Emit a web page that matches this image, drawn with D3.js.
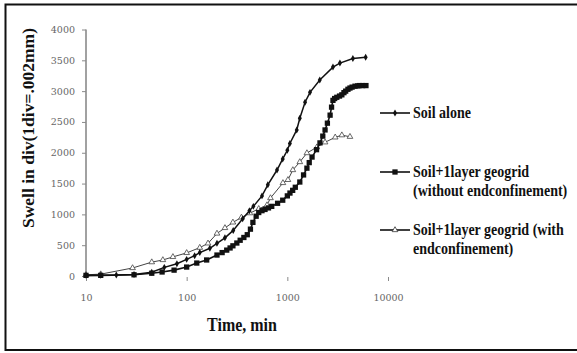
<!DOCTYPE html>
<html>
<head>
<meta charset="utf-8">
<script src="https://cdn.jsdelivr.net/npm/d3@7"></script>
<style>
  html, body { margin: 0; padding: 0; background: #fff; }
  svg { display: block; }
</style>
</head>
<body>
<svg id="chart" width="577" height="353"></svg>
<script>
// Swell (div) versus elapsed time (min), three test conditions
const soilAloneTime = [10, 14, 20, 30, 45, 60, 80, 100, 120, 135, 170, 200, 240, 290, 360, 420, 460, 560, 640, 790, 900, 1000, 1060, 1240, 1330, 1500, 1680, 2100, 2840, 3330, 4480, 6000];
const soilAloneSwell = [10, 12, 15, 25, 60, 140, 200, 270, 330, 380, 450, 530, 620, 740, 930, 1060, 1130, 1300, 1480, 1720, 1900, 2040, 2150, 2370, 2560, 2820, 2980, 3180, 3390, 3455, 3530, 3550];

const noEndTime = [10, 14, 30, 45, 57, 75, 100, 126, 158, 200, 225, 250, 270, 288, 315, 340, 370, 400, 430, 455, 490, 520, 560, 600, 650, 700, 800, 900, 1000, 1062, 1130, 1200, 1330, 1450, 1565, 1650, 1760, 1950, 2110, 2250, 2370, 2500, 2660, 2750, 2840, 2950, 3100, 3300, 3480, 3650, 3800, 4000, 4190, 4400, 4700, 5000, 5230, 5600, 6040];
const noEndSwell = [10, 10, 20, 45, 65, 95, 145, 210, 260, 340, 380, 420, 455, 490, 535, 580, 625, 670, 760, 870, 970, 1030, 1060, 1080, 1105, 1130, 1180, 1230, 1300, 1346, 1390, 1440, 1525, 1640, 1750, 1840, 1930, 2050, 2160, 2270, 2370, 2480, 2610, 2740, 2850, 2880, 2900, 2920, 2940, 2975, 3000, 3030, 3050, 3065, 3080, 3085, 3090, 3090, 3090];

const withEndTime = [10, 14, 29, 45, 58, 73, 100, 135, 163, 200, 240, 288, 350, 425, 520, 628, 680, 904, 1014, 1134, 1330, 1565, 1965, 2370, 2990, 3480, 4190];
const withEndSwell = [20, 30, 130, 225, 260, 310, 375, 460, 530, 690, 780, 870, 950, 1020, 1090, 1150, 1265, 1510, 1560, 1720, 1850, 1995, 2090, 2170, 2250, 2285, 2260];

const xTicks = [10, 100, 1000, 10000];
const yTicks = [0, 500, 1000, 1500, 2000, 2500, 3000, 3500, 4000];

const legendLabels = [
  ["Soil alone"],
  ["Soil+1layer geogrid", "(without endconfinement)"],
  ["Soil+1layer geogrid (with", "endconfinement)"]
];

const svg = d3.select("#chart");
const x = d3.scaleLog().domain([10, 10000]).range([86, 388]);
const y = d3.scaleLinear().domain([0, 4000]).range([276, 29.5]);

// outer frame
svg.append("rect")
  .attr("x", 5.5).attr("y", 4.5).attr("width", 575).attr("height", 345.5)
  .attr("fill", "none").attr("stroke", "#111").attr("stroke-width", 2);

// y axis
const yAxis = svg.append("g").attr("transform", "translate(86,0)")
  .call(d3.axisLeft(y).tickValues(yTicks).tickSize(4).tickPadding(7).tickFormat(d3.format("d")));
yAxis.select(".domain").attr("stroke", "#8a8a8a").attr("stroke-width", 1.6)
  .attr("d", `M0,${y(4000)}V${y(0)}`);
yAxis.selectAll(".tick line").attr("stroke", "#8a8a8a");
yAxis.selectAll(".tick text")
  .attr("fill", "#666").attr("font-family", "DejaVu Serif").attr("font-size", 9.5);

// x axis (no visible baseline, only tick marks)
const xAxis = svg.append("g").attr("transform", "translate(0,277)")
  .call(d3.axisBottom(x).tickValues(xTicks).tickSize(4).tickPadding(13).tickFormat(d3.format("d")));
xAxis.select(".domain").remove();
xAxis.selectAll(".tick line").attr("stroke", "#8a8a8a");
xAxis.selectAll(".tick text")
  .attr("fill", "#666").attr("font-family", "DejaVu Serif").attr("font-size", 9.5);

// axis titles
svg.append("text")
  .attr("transform", "translate(34,128) rotate(-90)")
  .attr("text-anchor", "middle")
  .attr("font-family", "Liberation Serif").attr("font-weight", "bold").attr("font-size", 17.5)
  .attr("fill", "#111")
  .text("Swell in div(1div=.002mm)");

svg.append("g").attr("transform", "translate(242,331) scale(1,1.2)")
  .append("text")
  .attr("text-anchor", "middle")
  .attr("font-family", "Liberation Serif").attr("font-weight", "bold").attr("font-size", 16)
  .attr("fill", "#111")
  .text("Time, min");

// series
const series = [
  { t: withEndTime, v: withEndSwell, color: "#444", width: 1, marker: "triangle" },
  { t: soilAloneTime, v: soilAloneSwell, color: "#111", width: 1.5, marker: "diamond" },
  { t: noEndTime, v: noEndSwell, color: "#111", width: 1.6, marker: "square" }
];

const line = d3.line().x(d => x(d[0])).y(d => y(d[1]));

function drawMarker(sel, kind, color) {
  if (kind === "square") {
    sel.append("path").attr("d", d3.symbol(d3.symbolSquare, 28)())
      .attr("fill", color);
  } else if (kind === "diamond") {
    sel.append("path").attr("d", d3.symbol(d3.symbolDiamond, 14)())
      .attr("fill", color);
  } else {
    sel.append("path").attr("d", d3.symbol(d3.symbolTriangle, 14)())
      .attr("fill", "#fff").attr("stroke", color).attr("stroke-width", 0.8);
  }
}

series.forEach(s => {
  const pts = s.t.map((t, i) => [t, s.v[i]]);
  svg.append("path").datum(pts)
    .attr("d", line).attr("fill", "none")
    .attr("stroke", s.color).attr("stroke-width", s.width);
  const g = svg.append("g").selectAll("g").data(pts).join("g")
    .attr("transform", d => `translate(${x(d[0])},${y(d[1])})`);
  drawMarker(g, s.marker, s.color);
});

// legend
const legendRows = [113, 172, 230];
const legendSeries = [series[1], series[2], series[0]];
legendLabels.forEach((lines, i) => {
  const ly = legendRows[i];
  const s = legendSeries[i];
  svg.append("line").attr("x1", 380).attr("x2", 410).attr("y1", ly).attr("y2", ly)
    .attr("stroke", "#111").attr("stroke-width", 1.6);
  const m = svg.append("g").attr("transform", `translate(395,${ly})`);
  drawMarker(m, s.marker, s.marker === "triangle" ? "#333" : "#111");
  lines.forEach((txt, j) => {
    svg.append("g").attr("transform", `translate(413,${ly + 5 + j * 19}) scale(1,1.2)`)
      .append("text")
      .attr("font-family", "Liberation Serif").attr("font-weight", "bold").attr("font-size", 14)
      .attr("fill", "#111")
      .text(txt);
  });
});
</script>
</body>
</html>
